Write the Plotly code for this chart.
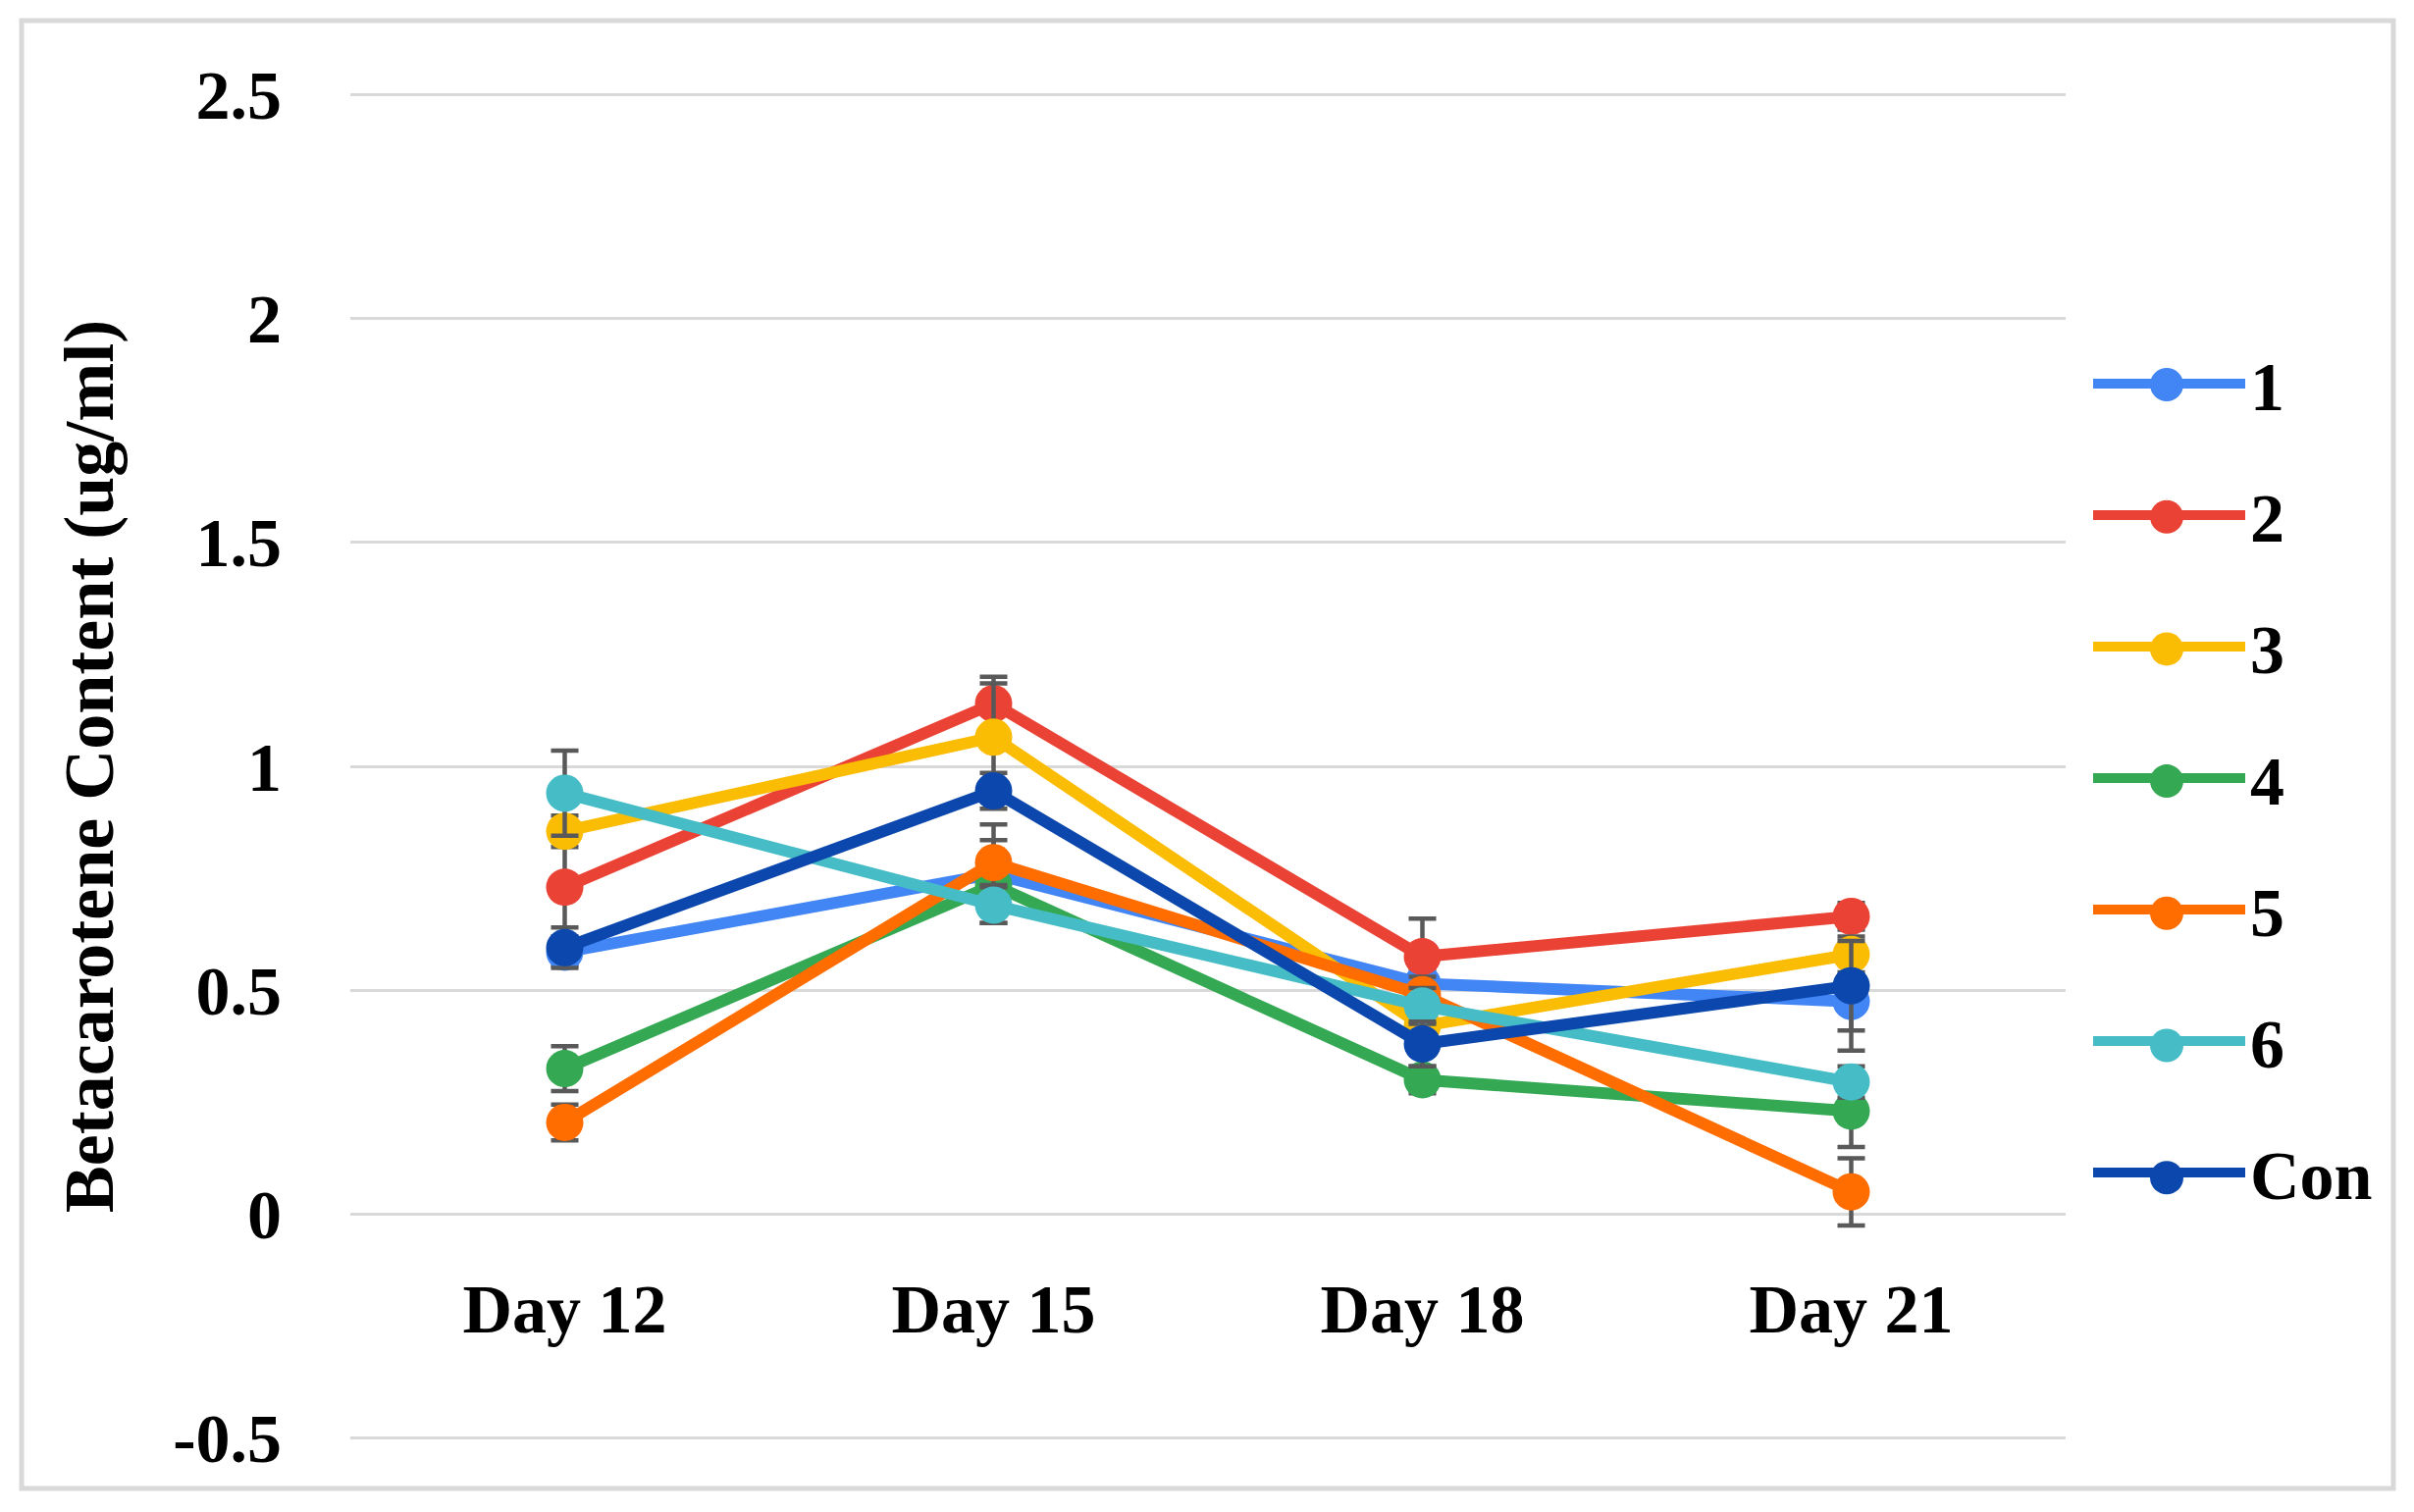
import plotly.graph_objects as go

days = ["Day 12", "Day 15", "Day 18", "Day 21"]
series_names = ["1", "2", "3", "4", "5", "6", "Con"]
colors = ["#4285F4", "#EA4335", "#FBBC04", "#34A853", "#FF6D01", "#46BDC6", "#0B47AD"]

s1 = [0.585, 0.76, 0.515, 0.475]
s2 = [0.73, 1.14, 0.575, 0.665]
s3 = [0.855, 1.065, 0.42, 0.58]
s4 = [0.325, 0.735, 0.30, 0.23]
s5 = [0.205, 0.785, 0.49, 0.05]
s6 = [0.94, 0.69, 0.465, 0.295]
con = [0.595, 0.945, 0.38, 0.51]

e1 = [0.03, 0.11, 0.03, 0.11]
e2 = [0.11, 0.06, 0.085, 0.03]
e3 = [0.035, 0.12, 0.04, 0.04]
e4 = [0.05, 0.04, 0.03, 0.08]
e5 = [0.04, 0.05, 0.04, 0.075]
e6 = [0.095, 0.04, 0.04, 0.035]
econ = [0.045, 0.04, 0.05, 0.10]

values = [s1, s2, s3, s4, s5, s6, con]
errors = [e1, e2, e3, e4, e5, e6, econ]

yticks = [-0.5, 0, 0.5, 1, 1.5, 2, 2.5]
ytick_text = ["-0.5", "0", "0.5", "1", "1.5", "2", "2.5"]

FONT = "Liberation Serif"

fig = go.Figure()
for name, col, v, e in zip(series_names, colors, values, errors):
    fig.add_trace(go.Scatter(
        x=days, y=v, name=name, mode="lines+markers",
        legendgroup=name,
        line=dict(color=col, width=12),
        marker=dict(color=col, size=38),
        error_y=dict(type="data", array=e, visible=True, color="#595959",
                     thickness=4.5, width=14),
    ))

W, H = 2460, 1541
L, R, T, B = 349, 363, 86, 81
pw, ph = W - L - R, H - T - B

def px(x):
    return (x - L) / pw

def py(y):
    return (H - B - y) / ph

# legend layout (pixels)
LEG_X, LEG_TOP = 2120, 331
LEG_ITEM_CENTER0, LEG_PITCH = 384, 134.7
LEG_SYMBOL_CX = 2200

shapes = [dict(type="rect", xref="paper", yref="paper",
               x0=px(14), x1=px(2431), y0=py(1509), y1=py(13),
               line=dict(color="#D9D9D9", width=5), layer="below")]
# enlarge legend marker glyphs to match the chart's marker size
for i, col in enumerate(colors):
    cy = LEG_ITEM_CENTER0 + i * LEG_PITCH
    shapes.append(dict(type="circle", xref="paper", yref="paper",
                       xsizemode="pixel", ysizemode="pixel",
                       xanchor=px(LEG_SYMBOL_CX), yanchor=py(cy),
                       x0=-17, x1=17, y0=-17, y1=17,
                       fillcolor=col, line=dict(width=0), layer="above"))

fig.update_layout(
    width=W, height=H,
    margin=dict(l=L, r=R, t=T, b=B),
    paper_bgcolor="white", plot_bgcolor="white",
    font=dict(family=FONT, size=70, color="black"),
    showlegend=True,
    legend=dict(
        x=px(LEG_X), y=py(LEG_TOP), xanchor="left", yanchor="top",
        font=dict(family=FONT, size=70, color="black", weight="bold"),
        tracegroupgap=40, itemwidth=155, itemsizing="trace",
        bgcolor="rgba(0,0,0,0)",
    ),
    xaxis=dict(
        type="category", range=[-0.5, 3.5],
        anchor="free", position=0.505 / 3.01,
        showgrid=False, zeroline=False, showline=False, ticks="",
        tickfont=dict(family=FONT, size=70, color="black", weight="bold"),
        ticklabelstandoff=50,
    ),
    yaxis=dict(
        range=[-0.505, 2.505], tickvals=yticks, ticktext=ytick_text,
        showgrid=True, gridcolor="#D9D9D9", gridwidth=3,
        zeroline=False, showline=False, ticks="",
        tickfont=dict(family=FONT, size=70, color="black", weight="bold"),
        ticklabelstandoff=69,
        title=dict(text="Betacarotene Content (ug/ml)",
                   font=dict(family=FONT, size=72, color="black", weight="bold"),
                   standoff=36),
    ),
    shapes=shapes,
)

fig.write_html("out.html")
